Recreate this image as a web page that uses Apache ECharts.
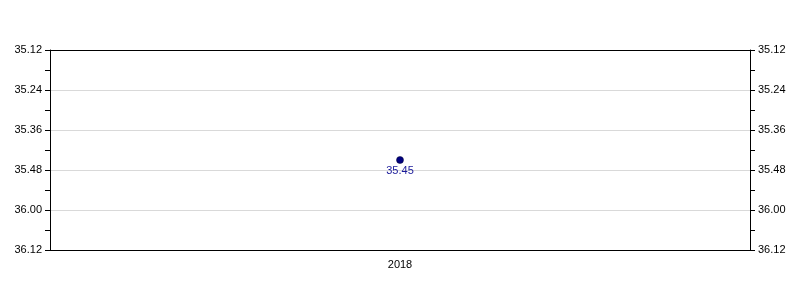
<!DOCTYPE html>
<html><head><meta charset="utf-8">
<script src="https://cdn.jsdelivr.net/npm/echarts@6/dist/echarts.min.js"></script>
<style>html,body{margin:0;padding:0;background:#fff}#c{width:800px;height:300px}</style>
</head><body><div id="c"></div>
<script>
// Data: race times in minutes.seconds, stored as total seconds
var categories = ['2018'];
var timesSeconds = [2145]; // 35:45
var yMin = 2112, yMax = 2172, yStep = 12; // 35.12 .. 36.12

function fmt(v){
  var m = Math.floor(v/60), s = Math.round(v - m*60);
  return m + '.' + (s < 10 ? '0' + s : s);
}
var font = 'Liberation Sans, Arial, sans-serif';
function yAxis(pos){
  return {
    type:'value', position:pos, inverse:true, min:yMin, max:yMax, interval:yStep,
    axisLine:{show:true, lineStyle:{color:'#000', width:1}},
    axisTick:{show:true, length:5, lineStyle:{color:'#000'}},
    minorTick:{show:true, splitNumber:2, length:5, lineStyle:{color:'#000'}},
    axisLabel:{formatter:fmt, color:'#000', fontFamily:font, fontSize:11, margin:8},
    splitLine:{show:pos==='left', lineStyle:{color:'#d9d9d9', width:1}}
  };
}
var chart = echarts.init(document.getElementById('c'));
chart.setOption({
  animation:false,
  grid:{left:50, right:50, top:50, bottom:50},
  xAxis:[{type:'category', data:categories, boundaryGap:true, position:'bottom',
    axisLine:{lineStyle:{color:'#000'}},
    axisTick:{alignWithLabel:true, length:5, lineStyle:{color:'#000'}},
    axisLabel:{color:'#000', fontFamily:font, fontSize:11, margin:9}},
    {type:'category', data:categories, position:'top',
    axisLine:{show:true, lineStyle:{color:'#000'}},
    axisTick:{show:false}, axisLabel:{show:false}}],
  yAxis:[yAxis('left'), yAxis('right')],
  series:[{
    type:'scatter', data:timesSeconds, symbol:'circle', symbolSize:7,
    itemStyle:{color:'#000080', borderColor:'#000030', borderWidth:0.5, opacity:1},
    label:{show:true, position:'bottom', distance:2, formatter:function(p){return fmt(p.value);},
      color:'#1a1a9a', fontFamily:font, fontSize:11}
  }]
});
</script></body></html>
